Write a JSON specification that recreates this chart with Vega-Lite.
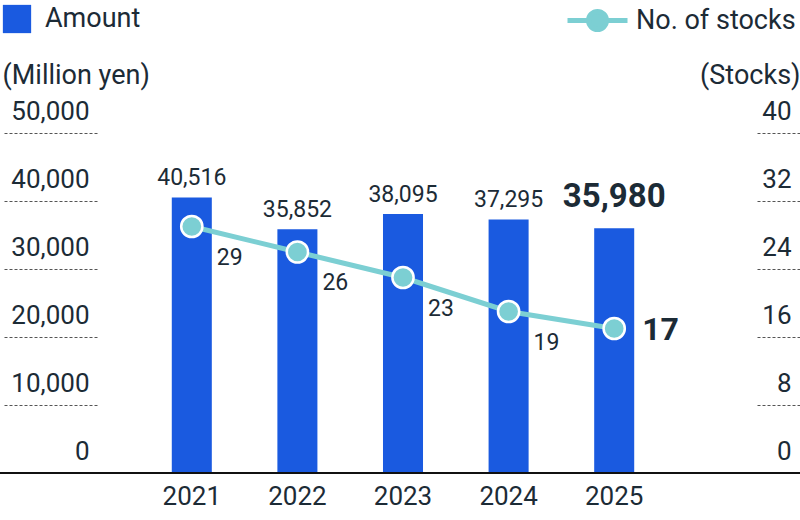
{
  "$schema": "https://vega.github.io/schema/vega-lite/v6.json",
  "width": 800,
  "height": 340,
  "autosize": {"type": "none"},
  "padding": {"left": 0, "top": 133, "right": 0, "bottom": 47},
  "config": {"view": {"stroke": null}, "font": "Roboto"},
  "data": {"values": [
    {"year": "2021", "amount": 40516, "stocks": 29},
    {"year": "2022", "amount": 35852, "stocks": 26},
    {"year": "2023", "amount": 38095, "stocks": 23},
    {"year": "2024", "amount": 37295, "stocks": 19},
    {"year": "2025", "amount": 35980, "stocks": 17}
  ]},
  "layer": [
    {
      "encoding": {"y": {"field": "amount", "type": "quantitative",
        "scale": {"domain": [0, 50000], "nice": false},
        "axis": {"orient": "left", "title": "(Million yen)", "values": [0, 10000, 20000, 30000, 40000, 50000],
          "format": ",.0f", "domain": false, "grid": false, "offset": -97, "tickSize": 95, "tickDash": [3, 2],
          "tickColor": "#555555", "tickWidth": 1, "labelPadding": -87, "labelAlign": "right",
          "labelBaseline": "alphabetic", "labelOffset": -14, "labelFontSize": 26, "labelColor": "#1c2b36",
          "titleAngle": 0, "titleX": -95, "titleY": -58, "titleAlign": "left", "titleBaseline": "middle",
          "titleFontSize": 27, "titleFontWeight": "normal", "titleColor": "#1c2b36"}}},
      "layer": [
        {"mark": {"type": "bar"},
         "encoding": {
           "x": {"field": "year", "type": "ordinal",
             "scale": {"range": [139, 667], "paddingInner": 0.621, "paddingOuter": 0.3105},
             "axis": {"title": null, "labelAngle": 0, "ticks": false, "domain": false,
               "labelFontSize": 26, "labelColor": "#1c2b36", "labelPadding": 10}},
           "color": {"datum": "Amount", "scale": {"range": ["#1a5ae0"]},
           "legend": {"orient": "none", "legendX": 2, "legendY": -129, "title": null, "symbolType": "square",
             "symbolSize": 800, "labelFontSize": 27, "labelColor": "#1c2b36", "labelOffset": 13, "padding": 0}}}},
        {"mark": {"type": "rule", "color": "#111111", "strokeWidth": 2},
         "encoding": {"y": {"datum": 0}}},
        {"transform": [{"filter": "datum.year != '2025'"}],
         "mark": {"type": "text", "fontSize": 23, "dy": -12, "baseline": "alphabetic", "color": "#1c2b36"},
         "encoding": {"x": {"field": "year", "type": "ordinal"}, "text": {"field": "amount", "format": ",.0f"}}},
        {"transform": [{"filter": "datum.year == '2025'"}],
         "mark": {"type": "text", "fontSize": 33, "fontWeight": "bold", "dy": -21, "baseline": "alphabetic", "color": "#1c2b36"},
         "encoding": {"x": {"field": "year", "type": "ordinal"}, "text": {"field": "amount", "format": ",.0f"}}}
      ]
    },
    {
      "encoding": {
        "x": {"field": "year", "type": "ordinal"},
        "y": {"field": "stocks", "type": "quantitative",
        "scale": {"domain": [0, 40], "nice": false},
        "axis": {"orient": "right", "title": "(Stocks)", "values": [0, 8, 16, 24, 32, 40],
          "domain": false, "grid": false, "offset": -43, "tickSize": 43, "tickDash": [3, 2],
          "tickColor": "#555555", "tickWidth": 1, "labelPadding": -9, "labelAlign": "right",
          "labelBaseline": "alphabetic", "labelOffset": -14, "labelFontSize": 26, "labelColor": "#1c2b36",
          "titleAngle": 0, "titleX": 43, "titleY": -58, "titleAlign": "right", "titleBaseline": "middle",
          "titleFontSize": 27, "titleFontWeight": "normal", "titleColor": "#1c2b36"}}},
      "layer": [
        {"mark": {"type": "line", "color": "#7ccfd3", "strokeWidth": 5}, "encoding": {}},
        {"mark": {"type": "point", "filled": true, "size": 450, "stroke": "white", "strokeWidth": 2.5, "opacity": 1},
         "encoding": {"fill": {"datum": "No. of stocks", "scale": {"range": ["#7ccfd3"]},
           "legend": {"orient": "none", "legendX": 565, "legendY": -145, "title": null,
             "symbolType": "M-1,0L-0.35,0M0.35,0L1,0M-0.3,0A0.3,0.3,0,1,1,0.3,0A0.3,0.3,0,1,1,-0.3,0Z",
             "symbolSize": 3600, "symbolStrokeColor": "#7ccfd3", "symbolStrokeWidth": 5,
             "labelFontSize": 27, "labelColor": "#1c2b36", "labelOffset": 6, "padding": 0,
             "encode": {"symbols": {"update": {"stroke": {"value": "#7ccfd3"}, "strokeWidth": {"value": 5}, "opacity": {"value": 1}}}}}}}},
        {"transform": [{"filter": "datum.year != '2025'"}],
         "mark": {"type": "text", "fontSize": 23, "dx": 25, "dy": 31, "align": "left", "color": "#1c2b36"},
         "encoding": {"text": {"field": "stocks"}}},
        {"transform": [{"filter": "datum.year == '2025'"}],
         "mark": {"type": "text", "fontSize": 32, "fontWeight": "bold", "dx": 28, "dy": 1, "align": "left", "color": "#1c2b36"},
         "encoding": {"text": {"field": "stocks"}}}
      ]
    }
  ],
  "resolve": {"scale": {"y": "independent"}}
}
